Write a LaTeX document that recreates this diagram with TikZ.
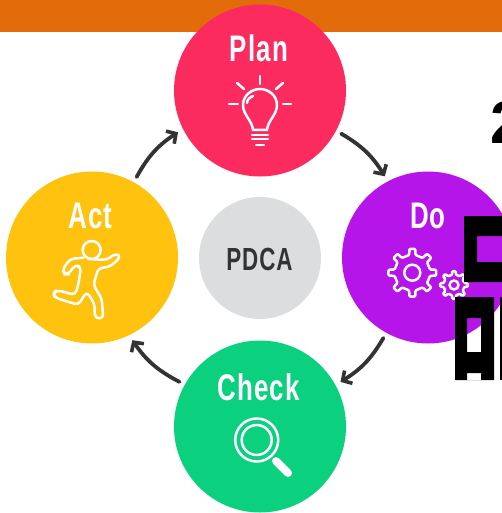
\documentclass[tikz,border=0pt]{standalone}
\usepackage{fontspec}
\usetikzlibrary{arrows.meta,calc}
\newfontfamily\labelfont[FakeStretch=0.70,LetterSpace=3]{Liberation Sans Bold}
\setmainfont{Liberation Sans}
\definecolor{barorange}{HTML}{E36C0A}
\definecolor{planred}{HTML}{FB2A5F}
\definecolor{dopurple}{HTML}{B515E8}
\definecolor{actyellow}{HTML}{FFC20E}
\definecolor{checkgreen}{HTML}{0BD07E}
\definecolor{centergray}{HTML}{DCDDDF}
\definecolor{arrowdark}{HTML}{333333}
\tikzset{
  phase/.style={circle,minimum size=172pt,outer sep=6pt,inner sep=0pt,fill=#1},
  title/.style={text=white,anchor=base,inner sep=0pt,font=\labelfont\fontsize{37}{37}\selectfont},
  flow/.style={draw=arrowdark,line width=3.8pt,line cap=round,-{Straight Barb[length=7pt,width=15pt,line width=3.6pt]}},
  icon/.style={draw=white,line width=2.5pt,line cap=round,line join=round},
}
\newcommand{\gearshape}[5]{% cx cy outer root hole
  \draw[icon,rounded corners=1pt] (#1,#2) ++(-10:#4)
    \foreach \k in {0,45,...,315}{
      -- ($(#1,#2)+(\k-10:#4)$) -- ($(#1,#2)+(\k-7:#3)$) -- ($(#1,#2)+(\k+7:#3)$) -- ($(#1,#2)+(\k+10:#4)$)
    } -- cycle;
  \draw[icon] (#1,#2) circle[radius=#5];
}
\begin{document}
\begin{tikzpicture}[x=1pt,y=-1pt]
\useasboundingbox (0,0) rectangle (502,513);
\clip (0,0) rectangle (502,513);
\fill[white] (0,0) rectangle (502,513);
\fill[barorange] (0,0) rectangle (502,32);

\node[phase=planred] (plan) at (260,90.5) {};
\node[phase=dopurple] (do) at (428,257.5) {};
\node[phase=checkgreen] (check) at (260,426.5) {};
\node[phase=actyellow] (act) at (92,257.5) {};
\node[circle,minimum size=122pt,inner sep=0pt,fill=centergray] (pdca) at (260,258) {};

\node[title] (plantext) at (259,62) {Plan};
\node[title] (dotext) at (428,228) {Do};
\node[title] (checktext) at (258.5,400) {Check};
\node[title] (acttext) at (90.5,228) {Act};
\node[title,text=arrowdark,font=\labelfont\fontsize{32}{32}\selectfont] (pdcatext) at (259.5,270) {PDCA};

\draw[flow] (plan.-28) to[bend left=14] (do.118);
\draw[flow] (do.241) to[bend left=14] (check.29);
\draw[flow] (check.151) to[bend left=14] (act.-64);
\draw[flow] (act.61) to[bend left=14] (plan.207);

% light bulb
\draw[icon] (253,130) .. controls (252,120) and (243,115) .. (243,105)
  .. controls (243,96) and (251,89) .. (260,89)
  .. controls (269,89) and (277,96) .. (277,105)
  .. controls (277,115) and (268,120) .. (267,130) -- cycle;
\draw[icon] (247,103) .. controls (247,100) and (250,97) .. (253,96);
\draw[icon] (260,76) -- (260,84);
\draw[icon] (237,83) -- (244,89);
\draw[icon] (283,83) -- (276,89);
\draw[icon] (229,104) -- (238,104);
\draw[icon] (283,104) -- (291,104);
\draw[icon] (252,135) -- (268,135);
\draw[icon] (252,139) -- (268,139);
\draw[icon] (256,145) -- (264,145);

% gears
\gearshape{412.3}{272.7}{24}{18}{8}
\gearshape{454}{285}{14}{10.5}{4.5}

% magnifier
\draw[icon] (256.7,440) circle[radius=21.5];
\draw[icon] (256.7,440) circle[radius=15];
\draw[white,line width=8pt,line cap=round] (276,461) -- (288,473);

% runner
\begin{scope}[shift={(45,235)},x=0.3333pt,y=-0.3333pt]
\draw[icon] (140,45) circle[radius=27];
\draw[icon,rounded corners=4pt] (115,68) -- (75,72) -- (52,105) -- (60,118) -- (70,118) -- (90,90) -- (108,95)
  -- (100,150) -- (90,180) -- (35,165) -- (25,175) -- (30,188) -- (100,210) -- (125,170)
  -- (148,205) -- (150,250) -- (175,250) -- (170,190) -- (145,150) -- (160,100)
  -- (195,95) -- (228,65) -- (212,55) -- (185,75) -- (130,72);
\end{scope}

% cropped black letterforms at the right edge
\node[anchor=base west,inner sep=0pt,text=black,font=\bfseries\fontsize{60}{60}\selectfont] (two) at (490,143) {2};
\fill[black,even odd rule] (464,216) rectangle (510,282) (477,236) rectangle (510,262);
\fill[black,even odd rule] (455,297) rectangle (494,380) (467,318) rectangle (481,352) (467,373) rectangle (481,380);
\fill[black] (500,297) rectangle (510,380);
\end{tikzpicture}
\end{document}
